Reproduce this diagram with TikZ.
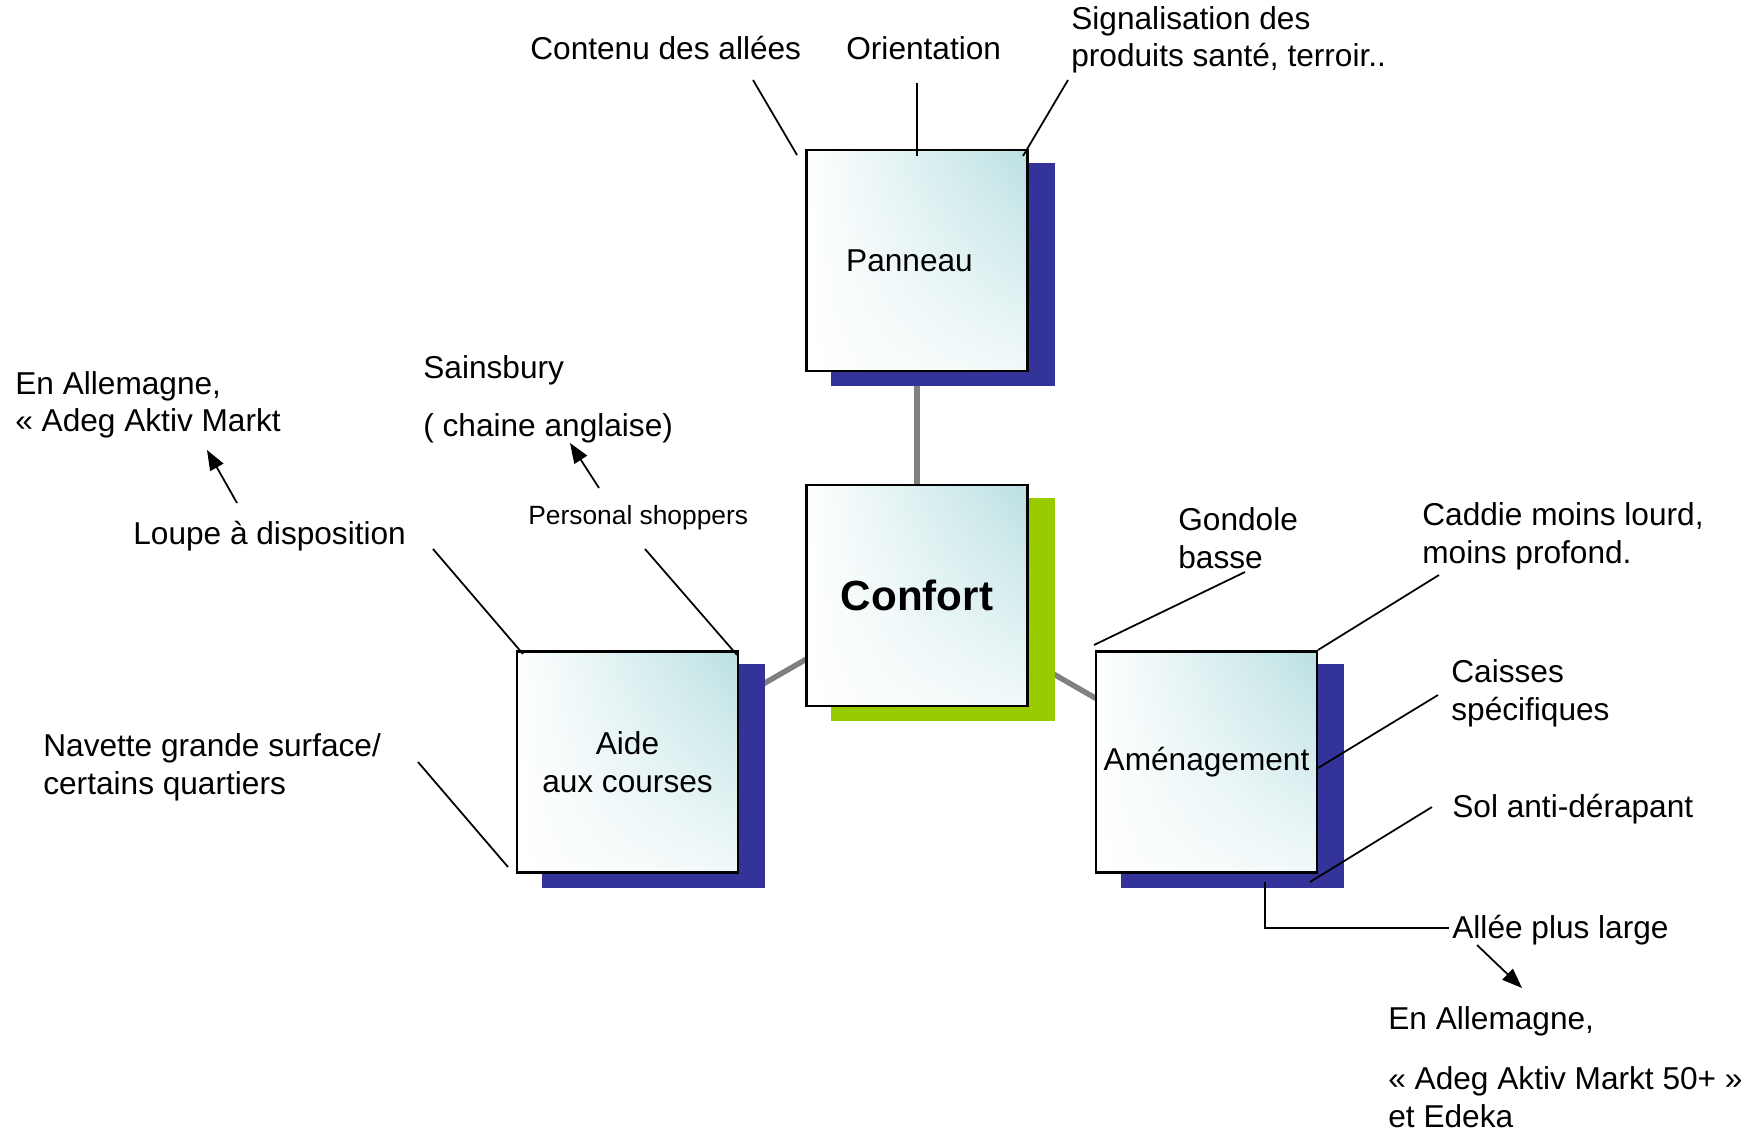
\documentclass[tikz,border=0pt]{standalone}
\usepackage{fontspec}
\setmainfont{Liberation Sans}
\usetikzlibrary{arrows.meta,shadings,backgrounds}
\definecolor{boxteal}{RGB}{186,224,226}
\definecolor{shadeblue}{RGB}{51,51,153}
\definecolor{shadegreen}{RGB}{153,204,0}
\definecolor{linkgray}{RGB}{128,128,128}

\begin{document}
\begin{tikzpicture}[x=0.02cm,y=-0.02cm,
  panel/.style={draw=black, line width=1.4pt, minimum width=4.42cm, minimum height=4.42cm,
    inner sep=0pt, align=center, font=\fontsize{18}{21.6}\selectfont,
    shade, shading=bilinear interpolation,
    upper left=white, lower left=white, lower right=boxteal!20, upper right=boxteal},
  lbl/.style={anchor=base west, inner sep=0pt, align=left, font=\fontsize{18}{21.6}\selectfont},
  smalllbl/.style={lbl, font=\fontsize{15}{18}\selectfont},
  leader/.style={line width=1pt, black},
  pointer/.style={leader, -{Triangle[length=0.4cm,width=0.3cm]}},
  hub/.style={line width=3.1pt, linkgray},
]
\useasboundingbox (0,0) rectangle (1751,1131);

% the four panels
\node[panel] (pan)  at (917,260.5) {Panneau\hspace*{0.3cm}};
\node[panel, font=\fontsize{24}{28}\selectfont\bfseries] (conf) at (917,595.5) {Confort};
\node[panel] (aide) at (627.5,762) {Aide\\aux courses};
\node[panel] (amen) at (1206.5,762) {Aménagement};

% hub links and drop shadows behind the panels
\begin{scope}[on background layer]
  \draw[hub] (conf.center) -- (pan.center);
  \draw[hub] (conf.center) -- (aide.center);
  \draw[hub] (conf.center) -- (amen.center);
  \fill[shadeblue]  ([shift={(26,14)}]pan.south west)  rectangle ([shift={(26,14)}]pan.north east);
  \fill[shadegreen] ([shift={(26,14)}]conf.south west) rectangle ([shift={(26,14)}]conf.north east);
  \fill[shadeblue]  ([shift={(26,14)}]aide.south west) rectangle ([shift={(26,14)}]aide.north east);
  \fill[shadeblue]  ([shift={(26,14)}]amen.south west) rectangle ([shift={(26,14)}]amen.north east);
\end{scope}

% labels around "Panneau" (multi-line labels sit on their last baseline)
\node[lbl] (cont)   at (530,60)  {Contenu des allées};
\node[lbl] (orient) at (846,60)  {Orientation};
\node[lbl] (signal) at (1071,67) {Signalisation des\\produits santé, terroir..};

% labels around "Aide aux courses"
\node[lbl] (allem1) at (15,432)  {En Allemagne,\\« Adeg Aktiv Markt};
\node[lbl] (loupe)  at (133,544) {Loupe à disposition};
\node[lbl] (sains)  at (423,437) {Sainsbury\\[11.5pt] ( chaine anglaise)};
\node[smalllbl] (pers) at (528,524) {Personal shoppers};
\node[lbl] (navette) at (43,794) {Navette grande surface/\\certains quartiers};

% labels around "Aménagement"
\node[lbl] (gond)    at (1178,568) {Gondole\\basse};
\node[lbl] (caddie)  at (1422,563) {Caddie moins lourd,\\moins profond.};
\node[lbl] (caisses) at (1451,720) {Caisses\\spécifiques};
\node[lbl] (sol)     at (1452,817) {Sol anti-dérapant};
\node[lbl] (allee)   at (1452,938) {Allée plus large};
\node[lbl] (allem2)  at (1388,1127) {En Allemagne,\\[12.5pt]« Adeg Aktiv Markt 50+ »\\et Edeka};

% leader line end points
\coordinate (c1a) at (753,80);   \coordinate (c1b) at (797,155);
\coordinate (c2a) at (917,83);   \coordinate (c2b) at (917,156);
\coordinate (c3a) at (1068,80);  \coordinate (c3b) at (1023,156);
\coordinate (c4a) at (433,549);  \coordinate (c4b) at (523,654);
\coordinate (c5a) at (645,549);  \coordinate (c5b) at (737,655);
\coordinate (c6a) at (418,762);  \coordinate (c6b) at (508,867);
\coordinate (c7a) at (1245,572); \coordinate (c7b) at (1094,645);
\coordinate (c8a) at (1439,575); \coordinate (c8b) at (1318,650);
\coordinate (c9a) at (1438,695); \coordinate (c9b) at (1318,768);
\coordinate (c10a) at (1432,807); \coordinate (c10b) at (1310,882);
\coordinate (c11a) at (1265,882); \coordinate (c11b) at (1449,928);

\draw[leader] (c1a) -- (c1b);
\draw[leader, line width=1.5pt] (c2a) -- (c2b);
\draw[leader] (c3a) -- (c3b);
\draw[leader] (c4a) -- (c4b);
\draw[leader] (c5a) -- (c5b);
\draw[leader] (c6a) -- (c6b);
\draw[leader] (c7a) -- (c7b);
\draw[leader] (c8a) -- (c8b);
\draw[leader] (c9a) -- (c9b);
\draw[leader] (c10a) -- (c10b);
\draw[leader, line width=1.6pt] (c11a) |- (c11b);

% pointing arrows
\coordinate (p1a) at (237,503);  \coordinate (p1b) at (207,450);
\coordinate (p2a) at (599,488);  \coordinate (p2b) at (570,443);
\coordinate (p3a) at (1477,945); \coordinate (p3b) at (1522,988);
\draw[pointer] (p1a) -- (p1b);
\draw[pointer] (p2a) -- (p2b);
\draw[pointer] (p3a) -- (p3b);
\end{tikzpicture}
\end{document}
